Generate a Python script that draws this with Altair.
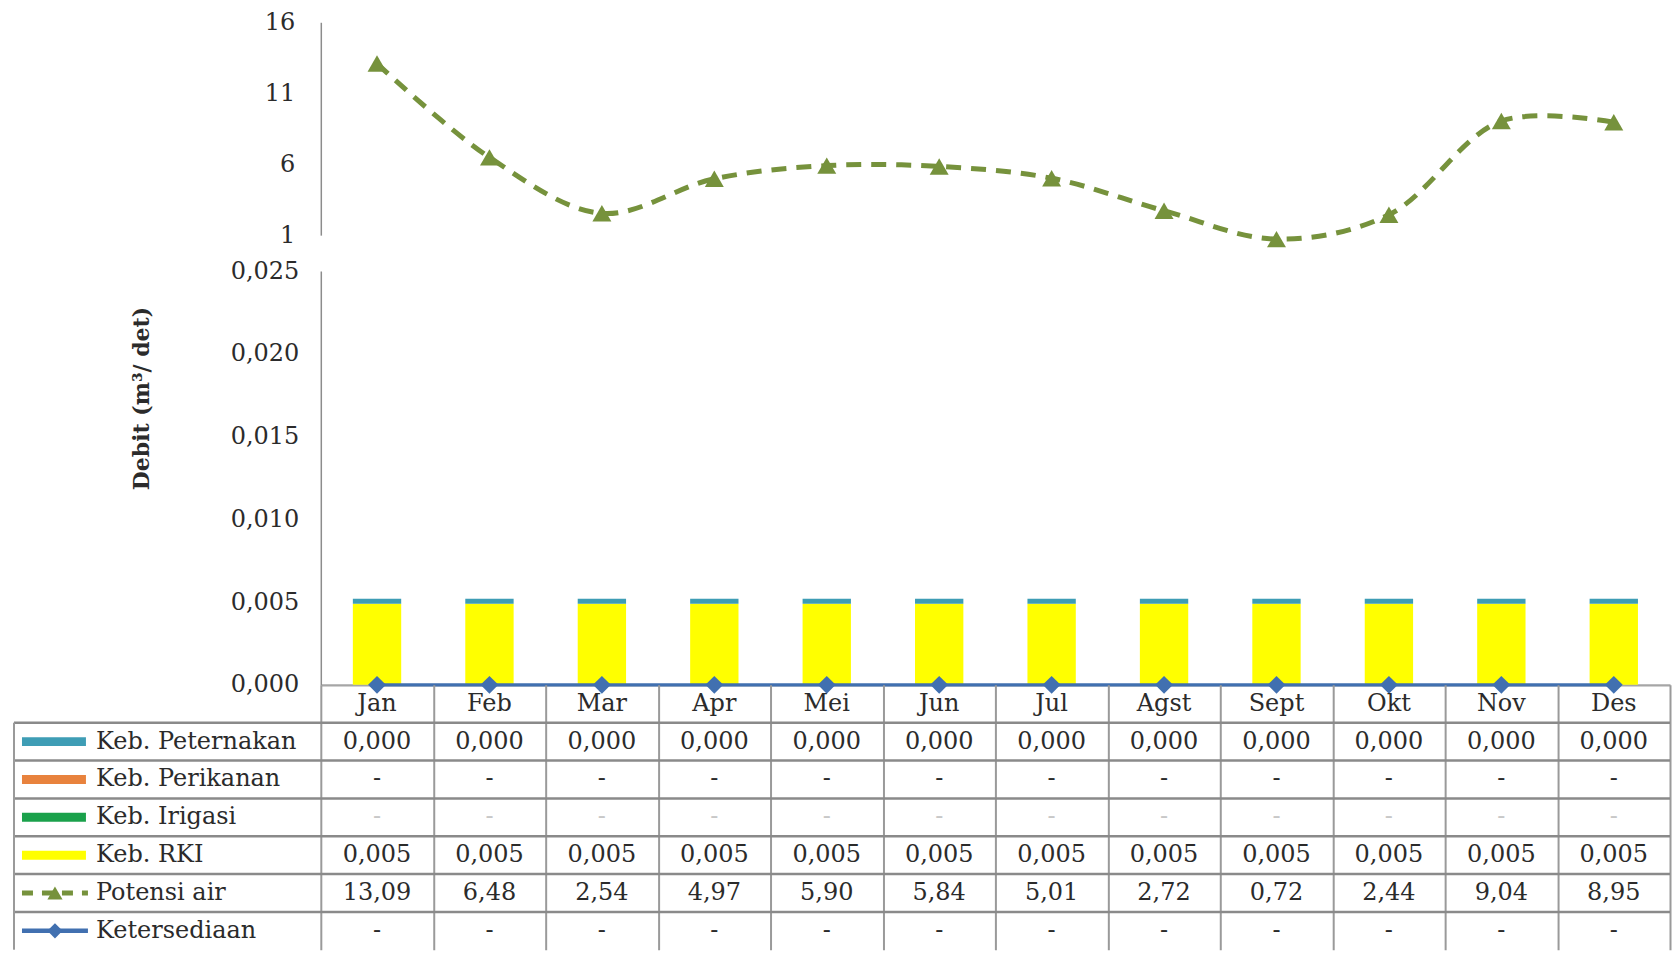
import altair as alt
import pandas as pd

months = ["Jan", "Feb", "Mar", "Apr", "Mei", "Jun", "Jul", "Agst", "Sept", "Okt", "Nov", "Des"]
keb_peternakan = [0.0003, 0.0003, 0.0003, 0.0003, 0.0003, 0.0003, 0.0003, 0.0003, 0.0003, 0.0003, 0.0003, 0.0003]
keb_perikanan = [0, 0, 0, 0, 0, 0, 0, 0, 0, 0, 0, 0]
keb_irigasi = [0, 0, 0, 0, 0, 0, 0, 0, 0, 0, 0, 0]
keb_rki = [0.0049, 0.0049, 0.0049, 0.0049, 0.0049, 0.0049, 0.0049, 0.0049, 0.0049, 0.0049, 0.0049, 0.0049]
potensi_air = [13.09, 6.48, 2.54, 4.97, 5.90, 5.84, 5.01, 2.72, 0.72, 2.44, 9.04, 8.95]
ketersediaan = [0, 0, 0, 0, 0, 0, 0, 0, 0, 0, 0, 0]

series_names = ["Keb. Peternakan", "Keb. Perikanan", "Keb. Irigasi", "Keb. RKI", "Potensi air", "Ketersediaan"]
series_colors = ["#3E9DB5", "#E8823D", "#1AA14B", "#FFFF00", "#76923C", "#4170B0"]
upper_ticks = [1, 6, 11, 16]
lower_ticks = [0, 0.005, 0.010, 0.015, 0.020, 0.025]
y_title = "Debit (m³/ det)"

FONT = "DejaVu Serif"
FS = 24
W = 1350
TXT = "#2b2b2b"
GRID = "#9a9a9a"
col = dict(zip(series_names, series_colors))

# ---------- top panel: Potensi air ----------
df_pot = pd.DataFrame({"Bulan": months, "Nilai": potensi_air})
x_top = alt.X("Bulan:N", sort=months, scale=alt.Scale(type="point", padding=0.5), axis=None)
y_top = alt.Y("Nilai:Q", scale=alt.Scale(domain=[1, 16], nice=False, zero=False),
              axis=alt.Axis(values=upper_ticks, title=None, grid=False, ticks=False,
                            labelPadding=26, domainColor="#8c8c8c", domainWidth=1.5))
top_line = alt.Chart(df_pot).mark_line(interpolate="catmull-rom", color=col["Potensi air"],
                                        strokeWidth=5, strokeDash=[15, 10]).encode(x=x_top, y=y_top)
top_pts = alt.Chart(df_pot).mark_point(shape="triangle-up", filled=True, size=360, opacity=1,
                                        color=col["Potensi air"]).encode(x=x_top, y="Nilai:Q")
top = alt.layer(top_line, top_pts).properties(width=W, height=213)

# ---------- bottom panel: stacked needs + availability ----------
bar_rows = []
for i, m in enumerate(months):
    for order, (name, vals) in enumerate([("Keb. RKI", keb_rki), ("Keb. Irigasi", keb_irigasi),
                                           ("Keb. Perikanan", keb_perikanan), ("Keb. Peternakan", keb_peternakan)]):
        bar_rows.append({"Bulan": m, "Seri": name, "Nilai": vals[i], "urut": order})
df_bar = pd.DataFrame(bar_rows)

x_bot = alt.X("Bulan:N", sort=months,
              scale=alt.Scale(type="band", paddingInner=0.57, paddingOuter=0.285),
              axis=alt.Axis(title=None, labels=False, ticks=False, domainColor="#A6A6A6", domainWidth=2.5))
y_bot_axis = alt.Axis(values=lower_ticks, title=y_title, grid=False, ticks=False, labelPadding=22,
                      domainColor="#8c8c8c", domainWidth=1.5,
                      labelExpr="replace(format(datum.value, '.3f'), '.', ',')",
                      titleX=-179, titleY=127, titleAngle=-90, titleAlign="center",
                      titleBaseline="middle", titleFont=FONT, titleFontSize=22,
                      titleFontWeight="bold", titleColor=TXT)
bars = alt.Chart(df_bar).mark_bar().encode(
    x=x_bot,
    y=alt.Y("Nilai:Q", stack="zero", scale=alt.Scale(domain=[0, 0.025], nice=False), axis=y_bot_axis),
    color=alt.Color("Seri:N", scale=alt.Scale(domain=series_names[:4], range=series_colors[:4]), legend=None),
    order=alt.Order("urut:Q"),
)
df_ket = pd.DataFrame({"Bulan": months, "Nilai": ketersediaan})
ket_line = alt.Chart(df_ket).mark_line(color=col["Ketersediaan"], strokeWidth=3.5).encode(x=x_bot, y="Nilai:Q")
ket_pts = alt.Chart(df_ket).mark_point(shape="diamond", filled=True, size=320, opacity=1,
                                       color=col["Ketersediaan"]).encode(x=x_bot, y="Nilai:Q")
bottom = alt.layer(bars, ket_line, ket_pts).properties(width=W, height=414)

# ---------- data table ----------
rows_all = ["hdr"] + series_names
TH = 265


def fmt(v, d):
    if v == 0:
        return "-"
    return f"{v:.{d}f}".replace(".", ",")


table_vals = {
    "Keb. Peternakan": [fmt(v, 3) for v in keb_peternakan],
    "Keb. Perikanan": [fmt(v, 3) for v in keb_perikanan],
    "Keb. Irigasi": [fmt(v, 3) for v in keb_irigasi],
    "Keb. RKI": [fmt(v, 3) for v in keb_rki],
    "Potensi air": [fmt(v, 2) for v in potensi_air],
    "Ketersediaan": [fmt(v, 3) for v in ketersediaan],
}
cells = []
for i, m in enumerate(months):
    cells.append({"row": "hdr", "Bulan": m, "txt": m, "c": TXT})
    for name in series_names:
        cells.append({"row": name, "Bulan": m, "txt": table_vals[name][i],
                      "c": "#c8c8c8" if name == "Keb. Irigasi" else TXT})
df_cells = pd.DataFrame(cells)

y_scale = alt.Scale(type="band", domain=rows_all, paddingInner=0, paddingOuter=0)
x_tab = alt.X("Bulan:N", sort=months, scale=alt.Scale(type="band", paddingInner=0, paddingOuter=0),
              axis=alt.Axis(title=None, labels=False, ticks=False, domain=False, grid=True,
                            tickBand="extent", gridColor=GRID, gridWidth=2))
cell_text = alt.Chart(df_cells).mark_text(font=FONT, fontSize=FS).encode(
    x=x_tab, y=alt.Y("row:N", scale=y_scale, axis=None), text="txt:N",
    color=alt.Color("c:N", scale=None))

df_lab = pd.DataFrame({"row": series_names, "c": series_colors})
row_labels = alt.Chart(df_lab).mark_text(font=FONT, fontSize=FS, align="left", color=TXT).encode(
    x=alt.value(-225), y=alt.Y("row:N", scale=y_scale, axis=None), text="row:N")

df_sw_thick = df_lab[df_lab["row"].isin(series_names[:4])]
sw_thick = alt.Chart(df_sw_thick).mark_rule(strokeWidth=9).encode(
    x=alt.value(-299), x2=alt.value(-235), y=alt.Y("row:N", scale=y_scale, axis=None),
    color=alt.Color("c:N", scale=None))
df_sw_pot = df_lab[df_lab["row"] == "Potensi air"]
sw_pot = alt.Chart(df_sw_pot).mark_rule(strokeWidth=5, strokeDash=[11, 9]).encode(
    x=alt.value(-299), x2=alt.value(-233), y=alt.Y("row:N", scale=y_scale, axis=None),
    color=alt.Color("c:N", scale=None))
sw_pot_pt = alt.Chart(df_sw_pot).mark_point(shape="triangle-up", filled=True, size=230, opacity=1).encode(
    x=alt.value(-266), y=alt.Y("row:N", scale=y_scale, axis=None), color=alt.Color("c:N", scale=None))
df_sw_ket = df_lab[df_lab["row"] == "Ketersediaan"]
sw_ket = alt.Chart(df_sw_ket).mark_rule(strokeWidth=4.5).encode(
    x=alt.value(-299), x2=alt.value(-233), y=alt.Y("row:N", scale=y_scale, axis=None),
    color=alt.Color("c:N", scale=None))
sw_ket_pt = alt.Chart(df_sw_ket).mark_point(shape="diamond", filled=True, size=230, opacity=1).encode(
    x=alt.value(-266), y=alt.Y("row:N", scale=y_scale, axis=None), color=alt.Color("c:N", scale=None))

df_borders = pd.DataFrame({"row": series_names})
h_borders = alt.Chart(df_borders).mark_rule(color="#8a8a8a", strokeWidth=2.5).encode(
    x=alt.value(-307), x2=alt.value(W), y=alt.Y("row:N", scale=y_scale, axis=None, bandPosition=0))
left_border = alt.Chart(df_borders[df_borders["row"] == series_names[0]]).mark_rule(
    color=GRID, strokeWidth=2).encode(
    x=alt.value(-307), y=alt.Y("row:N", scale=y_scale, axis=None, bandPosition=0), y2=alt.value(TH))

table = alt.layer(cell_text, h_borders, left_border, row_labels, sw_thick, sw_pot, sw_pot_pt,
                  sw_ket, sw_ket_pt).properties(width=W, height=TH)

inner = alt.vconcat(bottom, table, spacing=0, bounds="flush")
chart = alt.vconcat(top, inner, spacing=36, bounds="flush").properties(
    padding={"left": 12, "top": 10, "right": 0, "bottom": 0},
    background="white",
).configure_view(stroke=None).configure_axis(
    labelFont=FONT, labelFontSize=FS, labelColor=TXT
)

chart.save("out.html", embed_options={"renderer": "svg", "actions": False})
